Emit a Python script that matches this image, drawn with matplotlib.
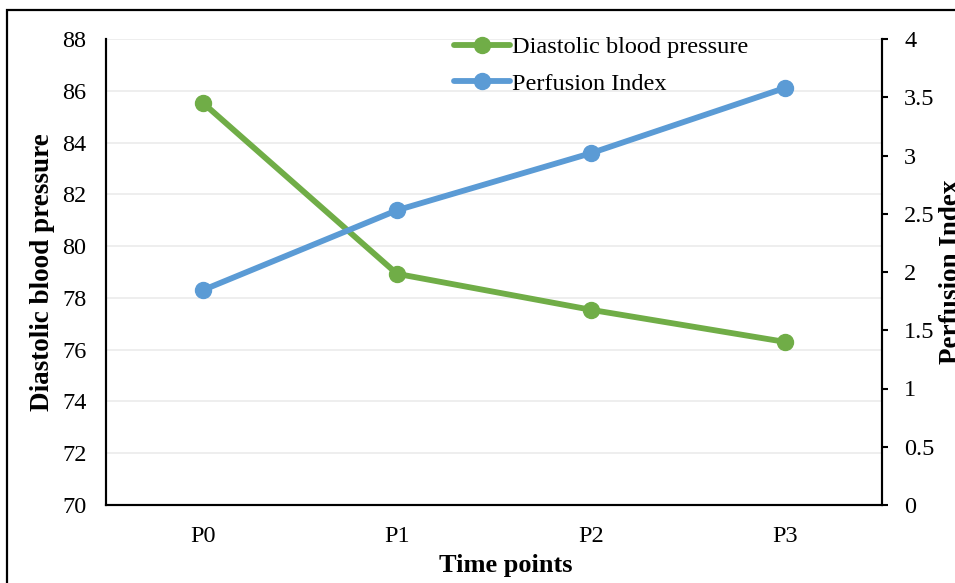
import matplotlib
matplotlib.use("Agg")
import matplotlib.pyplot as plt
from matplotlib.patches import Rectangle

plt.rcParams['font.family'] = ['Liberation Serif', 'DejaVu Serif']

# data
time_points = ['P0', 'P1', 'P2', 'P3']
diastolic_bp = [85.53, 78.93, 77.54, 76.3]
perfusion_index = [1.845, 2.53, 3.02, 3.58]

green = '#70AD47'
blue = '#5B9BD5'

fig = plt.figure(figsize=(9.55, 5.83), dpi=100)
ax = fig.add_axes([106 / 955, 1 - 505 / 583, (882 - 106) / 955, (505 - 39) / 583])
ax2 = ax.twinx()

x = list(range(len(time_points)))
l1, = ax.plot(x, diastolic_bp, color=green, lw=4.2, marker='o', ms=11.5,
              solid_capstyle='round', label='Diastolic blood pressure')
l2, = ax2.plot(x, perfusion_index, color=blue, lw=4.2, marker='o', ms=11.5,
               solid_capstyle='round', label='Perfusion Index')

ax.set_xlim(-0.5, 3.5)
ax.set_ylim(70, 88)
ax.set_yticks(range(70, 89, 2))
ax2.set_ylim(0, 4)
ax2.set_yticks([0, 0.5, 1, 1.5, 2, 2.5, 3, 3.5, 4])
ax2.set_yticklabels(['0', '0.5', '1', '1.5', '2', '2.5', '3', '3.5', '4'])
ax.set_xticks(x)
ax.set_xticklabels(time_points)

ax.grid(axis='y', color='#ebebeb', lw=1.2)
ax.set_axisbelow(True)

for a in (ax, ax2):
    a.spines['top'].set_visible(False)
    for s in ('left', 'right', 'bottom'):
        a.spines[s].set_linewidth(1.5)
        a.spines[s].set_color('black')

ax.tick_params(axis='y', length=0, pad=14, labelsize=17.5)
ax.tick_params(axis='x', length=0, pad=15, labelsize=17.5)
ax2.tick_params(axis='y', length=4, width=1.5, pad=12, labelsize=17.5, direction='out')

ax.set_xlabel('Time points', fontsize=19, fontweight='bold')
ax.xaxis.set_label_coords(0.515, -0.105)
ax.set_ylabel('Diastolic blood pressure', fontsize=19.5, fontweight='bold', labelpad=5)
ax2.set_ylabel('Perfusion Index', fontsize=19.5, fontweight='bold', labelpad=3)

fig.legend(handles=[l1, l2], loc='upper left', bbox_to_anchor=(454 / 955, 1 - 36 / 583),
           frameon=False, fontsize=17.5, handlelength=2.3, handletextpad=0.1,
           labelspacing=0.6, borderpad=0, borderaxespad=0)

# outer chart border (cropped on the right and bottom)
fig.patches.append(Rectangle((7 / 955, -0.1), 1.2, 1 - 10 / 583 + 0.1,
                             transform=fig.transFigure, fill=False,
                             edgecolor='black', lw=1.6))

fig.savefig('out.png', dpi=100)
